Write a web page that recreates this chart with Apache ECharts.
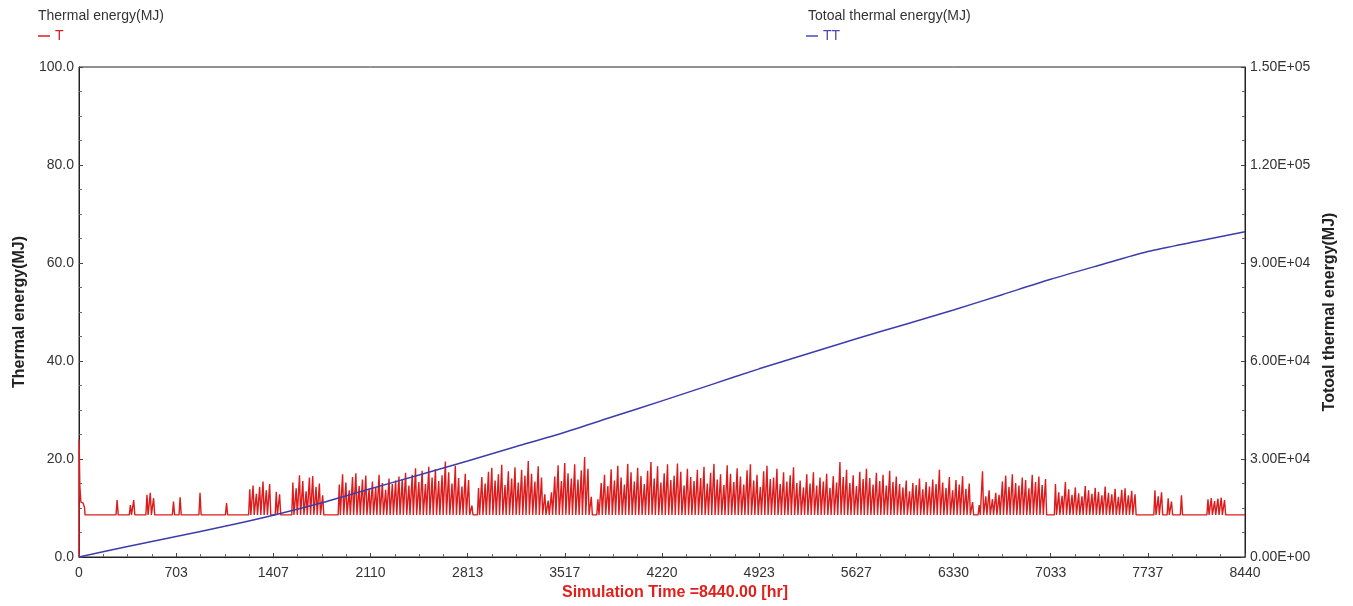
<!DOCTYPE html>
<html>
<head>
<meta charset="utf-8">
<script src="https://cdn.jsdelivr.net/npm/echarts@6/dist/echarts.min.js"></script>
<style>
  html, body { margin: 0; padding: 0; background: #fff; }
  #main { width: 1353px; height: 606px; }
</style>
</head>
<body>
<div id="main"></div>
<script>
// x axis ticks (hours)
var xMax = 8440;
var baseT = 8.6;

// first hours of T (start transient)
var startT = [[0, 0], [1, 24], [6, 14.5], [14, 11.2], [30, 11], [40, 10.1], [44, 8.6]];

// daily peak of T (MJ), day 0 .. 351 ; 8.6 = no heating that day
var dailyPeakT = [
  8.6, 8.6, 8.6, 8.6, 8.6, 8.6, 8.6, 8.6, 8.6, 8.6, 8.6, 11.6, 8.6, 8.6, 8.6, 10.6, 11.6, 8.6, 8.6, 8.6,
  12.7, 13.1, 12.0, 8.6, 8.6, 8.6, 8.6, 8.6, 11.3, 8.6, 12.2, 8.6, 8.6, 8.6, 8.6, 8.6, 13.1, 8.6, 8.6, 8.6,
  8.6, 8.6, 8.6, 8.6, 11.0, 8.6, 8.6, 8.6, 8.6, 8.6, 8.6, 13.8, 14.6, 12.9, 14.3, 15.4, 13.6, 14.9, 8.6, 13.3,
  12.8, 8.6, 8.6, 8.6, 15.2, 14.0, 16.7, 15.5, 13.4, 16.2, 16.5, 14.3, 15.0, 12.6, 8.6, 8.6, 8.6, 8.6, 14.8, 16.9,
  15.2, 13.6, 16.3, 17.1, 14.5, 15.8, 16.6, 13.9, 15.4, 14.2, 16.8, 15.1, 13.7, 16.0, 14.9, 15.6, 16.4, 15.9, 17.2, 14.6,
  16.8, 18.1, 15.3, 17.6, 14.9, 18.4, 16.2, 17.9, 15.5, 16.7, 19.5, 17.3, 15.0, 18.6, 16.1, 14.4, 17.0, 15.7, 10.5, 8.6,
  14.1, 16.3, 15.0, 17.4, 18.2, 15.6, 16.9, 18.8, 14.7, 17.5, 16.0, 18.3, 15.2, 17.8, 16.6, 19.6, 17.0, 15.4, 18.5, 16.2,
  12.8, 11.5, 13.2, 16.4, 18.7, 15.5, 19.2, 17.1, 16.0, 18.9, 15.8, 17.7, 20.4, 18.0, 12.3, 8.6, 11.8, 15.1, 16.8, 14.5,
  17.9, 15.6, 18.6, 16.2, 14.8, 19.0, 17.3, 15.4, 18.2, 16.5, 14.9, 17.6, 19.4, 16.0, 18.5, 15.2, 17.1, 18.9, 15.7, 16.6,
  19.1, 17.4, 14.6, 18.0, 16.3, 15.5, 17.8, 16.1, 18.4, 15.0, 17.2, 19.0, 15.8, 16.9, 14.7, 18.7, 17.0, 15.3, 18.1, 16.4,
  14.8, 17.7, 18.9, 15.6, 16.8, 14.3, 17.5, 18.6, 15.9, 16.2, 18.0, 14.9, 17.3, 15.4, 16.7, 18.3, 15.1, 15.6, 14.2, 16.9,
  15.0, 17.3, 14.6, 16.2, 15.4, 17.0, 14.1, 16.5, 15.2, 19.4, 16.3, 17.8, 15.1, 16.7, 14.5, 17.4, 15.9, 18.0, 16.1, 14.8,
  17.2, 15.5, 16.8, 14.6, 17.6, 15.3, 16.4, 14.9, 14.2, 15.6, 13.4, 15.1, 14.7, 16.0, 13.8, 15.3, 14.4, 15.8, 14.9, 17.8,
  15.2, 14.1, 16.3, 13.6, 15.7, 14.8, 16.5, 13.9, 15.0, 11.2, 8.6, 10.6, 17.5, 12.4, 13.6, 11.8, 13.1, 12.7, 15.4, 16.6,
  14.3, 16.9, 15.1, 14.6, 16.2, 15.7, 14.0, 16.8, 15.3, 16.4, 14.7, 15.9, 8.6, 8.6, 14.9, 13.2, 12.5, 15.3, 13.8, 12.7,
  14.2, 13.0, 12.4, 14.5, 13.6, 12.9, 14.1, 13.3, 12.6, 14.4, 13.1, 12.8, 13.9, 12.3, 13.7, 14.0, 12.6, 13.5, 12.8, 8.6,
  8.6, 8.6, 8.6, 8.6, 13.6, 12.4, 13.2, 8.6, 12.0, 11.3, 8.6, 8.6, 12.6, 8.6, 8.6, 8.6, 8.6, 8.6, 8.6, 8.6,
  11.8, 12.0, 11.4, 11.9, 12.1, 11.6, 8.6, 8.6, 8.6, 8.6, 8.6, 8.6
];

// cumulative TT (MJ)
var ttHours = [0, 352, 703, 1055, 1407, 1758, 2110, 2462, 2813, 3165, 3517, 3868, 4220,
  4572, 4923, 5275, 5627, 5978, 6330, 6682, 7033, 7385, 7737, 8088, 8440];
var ttValues = [0, 3200, 6300, 9400, 12800, 16600, 20900, 25100, 29400, 33800, 38200, 43000, 47800,
  52700, 57600, 62200, 66800, 71200, 75600, 80300, 85000, 89300, 93500, 96600, 99600];

function sciLabel(v) {
  var s = v.toExponential(2).toUpperCase(); // e.g. 1.50E+5
  var parts = s.split("E");
  var sign = parts[1].charAt(0);
  var exp = parts[1].slice(1);
  if (exp.length < 2) exp = "0" + exp;
  return parts[0] + "E" + sign + exp;
}

// daily spike: rise from base, peak at noon, back to base
var tData = startT.slice();
dailyPeakT.forEach(function(p, d) {
  if (p > baseT) {
    tData.push([d * 24 + 4, baseT], [d * 24 + 12, p], [d * 24 + 20, baseT]);
  }
});
tData.push([xMax, baseT]);

var ttData = ttHours.map(function(h, i) {
  return [h, ttValues[i]];
});

var myChart = echarts.init(document.getElementById("main"));
var txt = "#333";
var font = "Liberation Sans, Arial, sans-serif";

var option = {
  animation: false,
  textStyle: { fontFamily: font },
  title: [
    { text: "Thermal energy(MJ)", left: 38, top: 9, padding: 0,
      textStyle: { fontSize: 14, fontWeight: "normal", color: txt, fontFamily: font } },
    { text: "Totoal thermal energy(MJ)", left: 808, top: 9, padding: 0,
      textStyle: { fontSize: 14, fontWeight: "normal", color: txt, fontFamily: font } }
  ],
  legend: [
    { data: ["T"], left: 38, top: 29, padding: 0, icon: "rect", itemWidth: 12, itemHeight: 1.5,
      textStyle: { color: "#d42020", fontSize: 14 } },
    { data: ["TT"], left: 806, top: 29, padding: 0, icon: "rect", itemWidth: 12, itemHeight: 1.5,
      textStyle: { color: "#4a4ab8", fontSize: 14 } }
  ],
  grid: {
    left: 79, right: 108, top: 67, bottom: 49,
    show: true, borderColor: "#222", borderWidth: 1
  },
  xAxis: {
    type: "value",
    min: 0,
    max: xMax,
    interval: xMax / 12,
    name: "Simulation Time =8440.00 [hr]",
    nameLocation: "middle",
    nameGap: 28,
    nameTextStyle: { color: "#e0201c", fontWeight: "bold", fontSize: 16, padding: [0, 0, 0, 26] },
    axisLine: { lineStyle: { color: "#222" } },
    axisTick: { inside: true, length: 4, lineStyle: { color: "#444" } },
    minorTick: { show: true, splitNumber: 4, length: 3, lineStyle: { color: "#666" } },
    axisLabel: { color: txt, fontSize: 14, margin: 9, formatter: function(v) { return Math.round(v); } },
    splitLine: { show: false }
  },
  yAxis: [
    {
      type: "value",
      min: 0,
      max: 100,
      interval: 20,
      name: "Thermal energy(MJ)",
      nameLocation: "middle",
      nameRotate: 90,
      nameGap: 51,
      nameTextStyle: { color: "#222", fontWeight: "bold", fontSize: 16 },
      axisLine: { show: true, lineStyle: { color: "#222" } },
      axisTick: { inside: true, length: 4, lineStyle: { color: "#444" } },
      minorTick: { show: true, splitNumber: 4, length: 3, lineStyle: { color: "#666" } },
      axisLabel: { color: txt, fontSize: 14, margin: 5, formatter: function(v) { return v.toFixed(1); } },
      splitLine: { show: false }
    },
    {
      type: "value",
      position: "right",
      min: 0,
      max: 150000,
      interval: 30000,
      name: "Totoal thermal energy(MJ)",
      nameLocation: "middle",
      nameRotate: 90,
      nameGap: 75,
      nameTextStyle: { color: "#222", fontWeight: "bold", fontSize: 16 },
      axisLine: { show: true, lineStyle: { color: "#222" } },
      axisTick: { inside: true, length: 4, lineStyle: { color: "#444" } },
      minorTick: { show: true, splitNumber: 4, length: 3, lineStyle: { color: "#666" } },
      axisLabel: { color: txt, fontSize: 14, margin: 5, formatter: sciLabel },
      splitLine: { show: false }
    }
  ],
  series: [
    {
      name: "T",
      type: "line",
      yAxisIndex: 0,
      showSymbol: false,
      symbol: "none",
      color: "#d42020",
      lineStyle: { width: 1.4, color: "#dc1c1c" },
      data: tData
    },
    {
      name: "TT",
      type: "line",
      yAxisIndex: 1,
      showSymbol: false,
      symbol: "none",
      smooth: 0.25,
      color: "#4a4ab8",
      lineStyle: { width: 1.5, color: "#3c3cae" },
      data: ttData
    }
  ]
};

myChart.setOption(option);
</script>
</body>
</html>
